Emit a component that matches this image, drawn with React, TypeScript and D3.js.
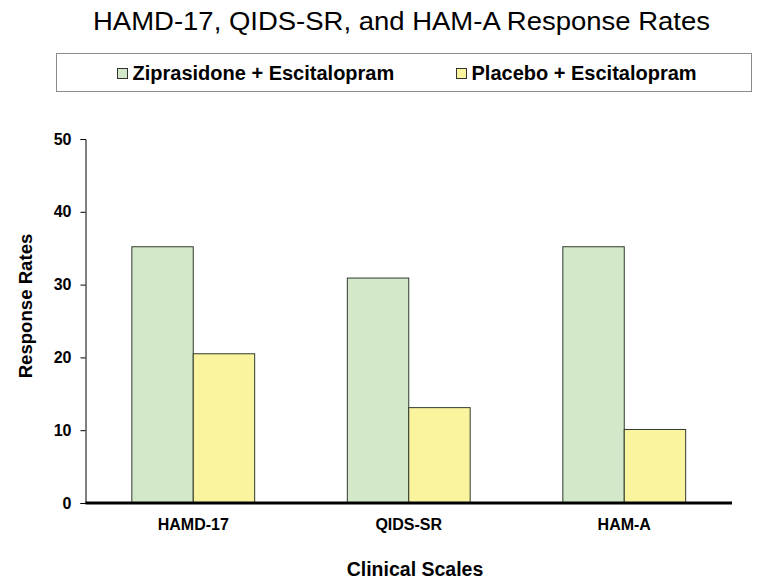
import React, { useEffect, useRef } from "react";
import * as d3 from "d3";

const categories = ["HAMD-17", "QIDS-SR", "HAM-A"];
const seriesNames = ["Ziprasidone + Escitalopram", "Placebo + Escitalopram"];
const ziprasidone = [35.2, 30.9, 35.2];
const placebo = [20.5, 13.1, 10.1];
const yTicks = [0, 10, 20, 30, 40, 50];
const colors = ["#d3e8c8", "#fbf49e"];

const W = 762;
const H = 587;
const FONT = "Arial, 'Liberation Sans', sans-serif";

export default function App() {
  const axisRef = useRef<SVGGElement>(null);
  const left = 85.5;
  const right = 732;
  const top = 139;
  const bottom = 503;

  const x0 = d3.scaleBand<string>().domain(categories).range([left, right]).paddingInner(0.43).paddingOuter(0.215);
  const x1 = d3.scaleBand<string>().domain(seriesNames).range([0, x0.bandwidth()]).padding(0);
  const y = d3.scaleLinear().domain([0, 50]).range([bottom, top]);

  const values = [ziprasidone, placebo];

  useEffect(() => {
    if (!axisRef.current) return;
    const g = d3.select(axisRef.current);
    g.selectAll("*").remove();
    const ax = d3.axisLeft(y).tickValues(yTicks).tickSize(5).tickPadding(9).tickFormat(d3.format("d"));
    g.call(ax as any);
    g.select(".domain").attr("stroke", "#000").attr("stroke-width", 1);
    g.selectAll(".tick line").attr("stroke", "#000");
    g.selectAll(".tick text")
      .attr("font-family", FONT)
      .attr("font-size", 16)
      .attr("font-weight", "bold")
      .attr("fill", "#000");
  }, []);

  return (
    <svg width={W} height={H} style={{ position: "absolute", left: 0, top: 0, background: "#fff" }}>
      <rect x={0} y={0} width={W} height={H} fill="#fff" />
      <text x={93} y={30} fontFamily={FONT} fontSize={26} textLength={617} lengthAdjust="spacingAndGlyphs" fill="#000">
        HAMD-17, QIDS-SR, and HAM-A Response Rates
      </text>
      {/* legend */}
      <rect x={56.5} y={53.5} width={695} height={38} fill="#fff" stroke="#8c8c8c" strokeWidth={1} />
      {[117.5, 456.5].map((lx, i) => (
        <g key={i}>
          <rect x={lx} y={68.5} width={10} height={10} fill={colors[i]} stroke="#333" strokeWidth={1} />
          <text x={lx + 15} y={80} fontFamily={FONT} fontSize={20} fontWeight="bold" fill="#000">
            {seriesNames[i]}
          </text>
        </g>
      ))}
      {/* bars */}
      {categories.map((c, ci) => (
        <g key={c}>
          {seriesNames.map((s, si) => {
            const xv = (x0(c) as number) + (x1(s) as number);
            const v = values[si][ci];
            return (
              <rect
                key={s}
                x={xv}
                y={y(v)}
                width={x1.bandwidth()}
                height={y(0) - y(v)}
                fill={colors[si]}
                stroke="#2e3a2e"
                strokeWidth={1}
              />
            );
          })}
        </g>
      ))}
      <g ref={axisRef} transform={`translate(${left},0)`} />
      <line x1={left} x2={right} y1={y(0)} y2={y(0)} stroke="#000" strokeWidth={3} />
      {categories.map((c) => (
        <text
          key={c}
          x={(x0(c) as number) + x0.bandwidth() / 2}
          y={529.5}
          textAnchor="middle"
          fontFamily={FONT}
          fontSize={16}
          fontWeight="bold"
          fill="#000"
        >
          {c}
        </text>
      ))}
      <text x={415} y={576} textAnchor="middle" fontFamily={FONT} fontSize={19.5} fontWeight="bold" fill="#000">
        Clinical Scales
      </text>
      <text
        transform="translate(32,306) rotate(-90)"
        textAnchor="middle"
        fontFamily={FONT}
        fontSize={18.6}
        fontWeight="bold"
        fill="#000"
      >
        Response Rates
      </text>
    </svg>
  );
}
